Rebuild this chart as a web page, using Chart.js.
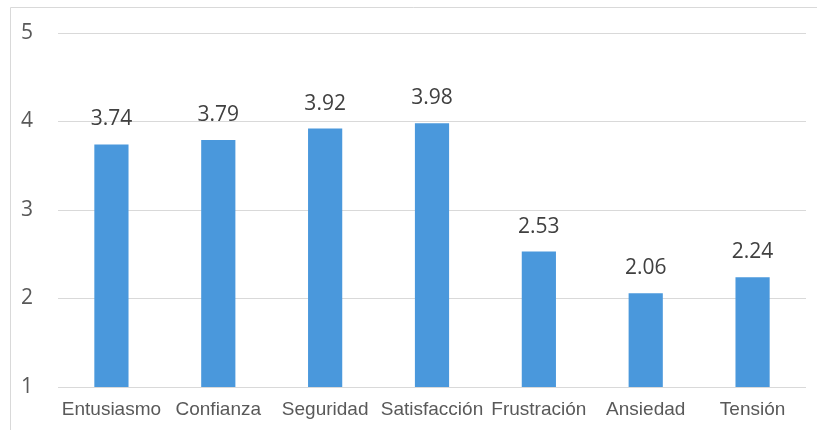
<!DOCTYPE html>
<html>
<head>
<meta charset="utf-8">
<script src="https://cdn.jsdelivr.net/npm/chart.js@4"></script>
<style>
  html, body { margin: 0; padding: 0; background: #fff; }
  #wrap { width: 817px; height: 430px; }
</style>
</head>
<body>
<div id="wrap"><canvas id="chart"></canvas></div>
<script>
// Datos
const categorias = ["Entusiasmo", "Confianza", "Seguridad", "Satisfacción", "Frustración", "Ansiedad", "Tensión"];
const valores = [3.74, 3.79, 3.92, 3.98, 2.53, 2.06, 2.24];
const ticksY = [1, 2, 3, 4, 5];

// Marco gris alrededor del gráfico
const marco = {
    id: "marco",
    beforeDraw(chart) {
        const c = chart.ctx;
        c.save();
        c.strokeStyle = "#d9d9d9";
        c.lineWidth = 1;
        c.beginPath();
        c.moveTo(10.5, chart.height);
        c.lineTo(10.5, 7.5);
        c.lineTo(chart.width, 7.5);
        c.stroke();
        c.restore();
    }
};

// Etiquetas de valor encima de las barras
const etiquetas = {
    id: "etiquetas",
    afterDatasetsDraw(chart) {
        const c = chart.ctx;
        const meta = chart.getDatasetMeta(0);
        c.save();
        c.font = "21px 'Open Sans'";
        c.fillStyle = "#404040";
        c.textAlign = "center";
        c.textBaseline = "middle";
        meta.data.forEach((bar, i) => {
            c.fillText(valores[i].toFixed(2), bar.x, bar.y - 25);
        });
        c.restore();
    }
};

new Chart(document.getElementById("chart"), {
    type: "bar",
    data: {
        labels: categorias,
        datasets: [{
            data: valores,
            backgroundColor: "#4a98dc",
            categoryPercentage: 1,
            barPercentage: 0.32
        }]
    },
    options: {
        responsive: true,
        maintainAspectRatio: false,
        animation: false,
        layout: { padding: { top: 33, right: 11, left: 0, bottom: 0 } },
        plugins: { legend: { display: false }, tooltip: { enabled: false } },
        scales: {
            x: {
                grid: { display: false, drawTicks: false },
                border: { display: false },
                ticks: { color: "#595959", font: { family: "'Liberation Sans'", size: 19 }, padding: 11, maxRotation: 0, autoSkip: false },
                afterFit(s) { s.height = 43; }
            },
            y: {
                min: 1,
                max: 5,
                afterBuildTicks(s) { s.ticks = ticksY.map(v => ({ value: v })); },
                grid: { color: "#d9d9d9", drawTicks: false },
                border: { display: false },
                ticks: { color: "#595959", font: { family: "'Open Sans'", size: 21 }, padding: 25 },
                afterFit(s) { s.width = 58; s.paddingTop = 0; s.paddingBottom = 0; }
            }
        }
    },
    plugins: [marco, etiquetas]
});
</script>
</body>
</html>
